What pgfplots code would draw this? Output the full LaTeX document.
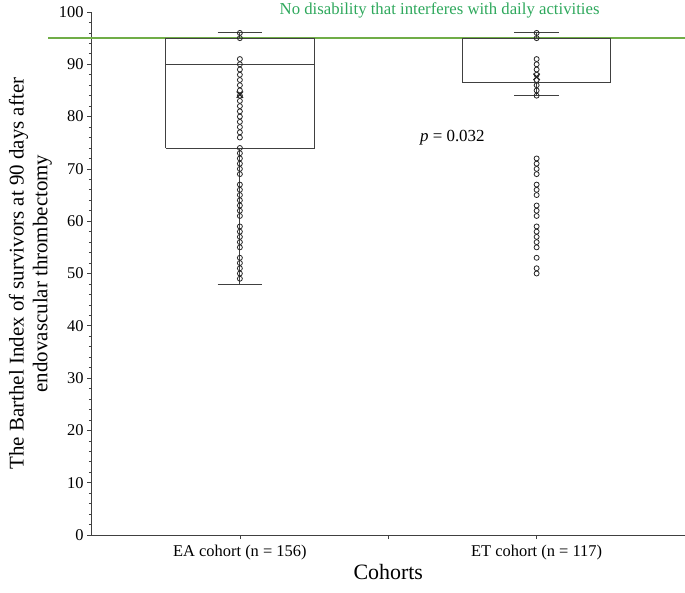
\documentclass[border=0pt]{standalone}
\usepackage{fontspec}
\setmainfont{Liberation Serif}
\usepackage{pgfplots}
\pgfplotsset{compat=1.18}
\definecolor{refgreen}{RGB}{112,173,71}
\definecolor{txtgreen}{RGB}{46,168,92}
\definecolor{boxgray}{RGB}{64,64,64}

\begin{document}
\begin{tikzpicture}
\begin{axis}[
  scale only axis, width=593.5bp, height=523bp,
  xmin=0.5, xmax=2.5, ymin=0, ymax=100,
  axis x line*=bottom, axis y line*=left,
  axis line style={-, boxgray, line width=0.9pt},
  every tick/.style={boxgray, line width=0.7pt},
  tick align=outside,
  major tick length=4bp, minor tick length=2.5bp,
  xtick={1,1.5,2}, xticklabels={EA cohort (n = 156),,ET cohort (n = 117)},
  ytick={0,10,...,100}, minor y tick num=4,
  /pgf/number format/assume math mode=true,
  tick label style={font=\fontsize{16.5}{18}\selectfont},
  yticklabel style={xshift=-0.5bp},
  xticklabel style={yshift=-3bp},
  xlabel={Cohorts}, ylabel={The Barthel Index of survivors at 90 days after\\endovascular thrombectomy},
  xlabel style={font=\fontsize{22}{26}\selectfont, yshift=3bp},
  ylabel style={font=\fontsize{21}{24}\selectfont, align=center, yshift=0bp},
  unbounded coords=jump,
  clip=false,
]
\coordinate (sw) at (rel axis cs:0,0);
\coordinate (ne) at (rel axis cs:1,1);
% reference line
\addplot[refgreen, line width=1.5pt] coordinates {(0.355,95) (2.5,95)};
% EA box: whiskers 48/96, quartiles 74/95, median 90
\addplot[boxgray, line width=0.9pt] coordinates {
 (0.75,74) (1.25,74) (1.25,95) (0.75,95) (0.75,74) (nan,nan)
 (0.75,90) (1.25,90) (nan,nan)
 (1,95) (1,96) (nan,nan) (0.925,96) (1.075,96) (nan,nan)
 (1,74) (1,48) (nan,nan) (0.925,48) (1.075,48)};
% ET box: whiskers 84/96, quartiles 86.5/95, median 95
\addplot[boxgray, line width=0.9pt] coordinates {
 (1.75,86.5) (2.25,86.5) (2.25,95) (1.75,95) (1.75,86.5) (nan,nan)
 (2,95) (2,96) (nan,nan) (1.925,96) (2.075,96) (nan,nan)
 (2,86.5) (2,84) (nan,nan) (1.925,84) (2.075,84)};
% individual points
\addplot[only marks, mark=o, mark size=2.5bp, mark options={black!85, line width=0.8pt}] table {
x y
1 96
1 95
1 91
1 90
1 89
1 88
1 87
1 86
1 85
1 84
1 83
1 82
1 81
1 80
1 79
1 78
1 77
1 76
1 74
1 73
1 72
1 71
1 70
1 69
1 67
1 66
1 65
1 64
1 63
1 62
1 61
1 59
1 58
1 57
1 56
1 55
1 53
1 52
1 51
1 50
1 49
};
\addplot[only marks, mark=o, mark size=2.5bp, mark options={black!85, line width=0.8pt}] table {
x y
2 96
2 95
2 91
2 90
2 89
2 88
2 87
2 86
2 85
2 84
2 72
2 71
2 70
2 69
2 67
2 66
2 65
2 63
2 62
2 61
2 59
2 58
2 57
2 56
2 55
2 53
2 51
2 50
};
% means
\addplot[only marks, mark=x, mark size=4.5bp, mark options={black!85, line width=1.2pt}] coordinates {(1,84.2) (2,87.6)};
\node[text=txtgreen, font=\fontsize{16.8}{18}\selectfont] at (axis cs:1.673,100.3) {No disability that interferes with daily activities};
\node[font=\fontsize{17}{19}\selectfont] at (axis cs:1.716,75.9) {\textit{p} = 0.032};
\end{axis}
\pgfresetboundingbox
\useasboundingbox ([xshift=-91.5bp,yshift=-58bp]sw) rectangle ([yshift=12bp]ne);
\end{tikzpicture}
\end{document}
